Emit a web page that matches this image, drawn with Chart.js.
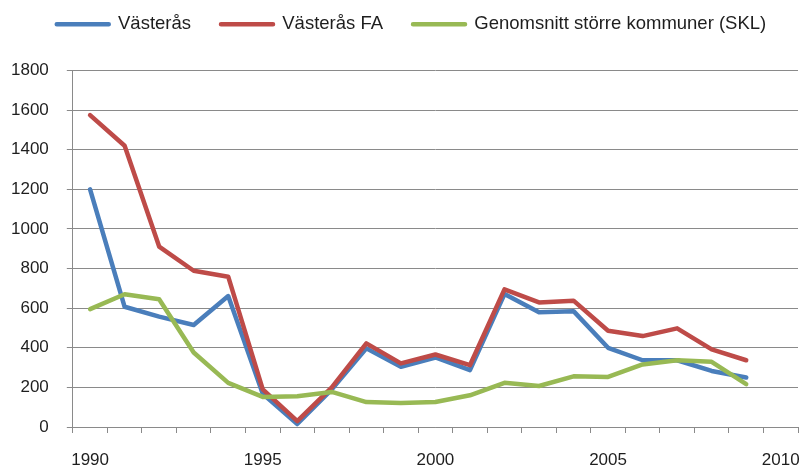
<!DOCTYPE html>
<html>
<head>
<meta charset="utf-8">
<script src="https://cdn.jsdelivr.net/npm/chart.js@4/dist/chart.umd.min.js"></script>
<style>
  html, body { margin: 0; padding: 0; background: #fff; }
  #c { display: block; }
</style>
</head>
<body>
<canvas id="c" width="809" height="466"></canvas>
<script>
// years on the category axis (2010 has no value)
const years = ['1990','1991','1992','1993','1994','1995','1996','1997','1998','1999',
               '2000','2001','2002','2003','2004','2005','2006','2007','2008','2009','2010'];

const vasteras   = [1200, 607, 557, 515, 661, 168, 15, 190, 397, 304, 351, 287, 671, 579, 585, 400, 337, 337, 283, 250];
const vasterasFA = [1575, 1420, 911, 789, 759, 190, 30, 200, 422, 321, 366, 312, 695, 629, 638, 486, 459, 498, 392, 337];
const skl        = [595, 670, 645, 376, 223, 152, 155, 177, 126, 121, 126, 160, 223, 207, 256, 253, 316, 337, 329, 216];

const yTicks = [0, 200, 400, 600, 800, 1000, 1200, 1400, 1600, 1800];

const gray = '#8a8a8a';
const textCol = '#1e1e1e';
const fam = "'Liberation Sans', Arial, sans-serif";

// extra room between legend and plot, and nudge legend right a bit
const legendGap = {
  id: 'legendGap',
  beforeInit(chart) {
    const fit = chart.legend.fit;
    chart.legend.fit = function () {
      fit.call(this);
      this.height += 27;
    };
  },
  afterLayout(chart) {
    chart.legend.left += 16;
    chart.legend.right += 16;
  }
};

function line(label, data, color, order) {
  return {
    label, data, order,
    borderColor: color,
    backgroundColor: color,
    borderWidth: 4.5,
    borderCapStyle: 'round',
    borderJoinStyle: 'round',
    pointRadius: 0,
    tension: 0
  };
}

new Chart(document.getElementById('c'), {
  type: 'line',
  data: {
    labels: years,
    datasets: [
      line('Västerås', vasteras, '#4a7ebb', 3),
      line('Västerås FA', vasterasFA, '#be4b48', 2),
      line('Genomsnitt större kommuner (SKL)', skl, '#98b954', 1)
    ]
  },
  options: {
    responsive: false,
    animation: false,
    devicePixelRatio: 1,
    layout: { padding: { top: -15, left: -7, right: 11, bottom: -22 } },
    plugins: {
      tooltip: { enabled: false },
      legend: {
        position: 'top',
        labels: {
          boxWidth: 52,
          boxHeight: 0,
          padding: 30,
          color: textCol,
          font: { family: fam, size: 18.5 },
          sort: (a, b) => a.datasetIndex - b.datasetIndex
        }
      }
    },
    scales: {
      x: {
        type: 'category',
        offset: true,
        afterFit: s => { s.paddingRight = 0; },
        grid: {
          offset: true,
          drawOnChartArea: false,
          drawTicks: true,
          tickLength: 6,
          color: gray
        },
        border: { color: gray, width: 1 },
        ticks: {
          autoSkip: false,
          maxRotation: 0,
          padding: 19,
          color: textCol,
          font: { family: fam, size: 17, lineHeight: 1 },
          callback: function (v, i) {
            const y = years[i];
            return (+y) % 5 === 0 ? y : '';
          }
        }
      },
      y: {
        min: yTicks[0],
        max: yTicks[yTicks.length - 1],
        afterBuildTicks: axis => { axis.ticks = yTicks.map(v => ({ value: v })); },
        grid: { color: gray, tickLength: 6, lineWidth: 1 },
        border: { color: gray, width: 1 },
        ticks: {
          padding: 18,
          color: textCol,
          font: { family: fam, size: 17 },
          callback: v => String(v)
        }
      }
    }
  },
  plugins: [legendGap]
});
</script>
</body>
</html>
